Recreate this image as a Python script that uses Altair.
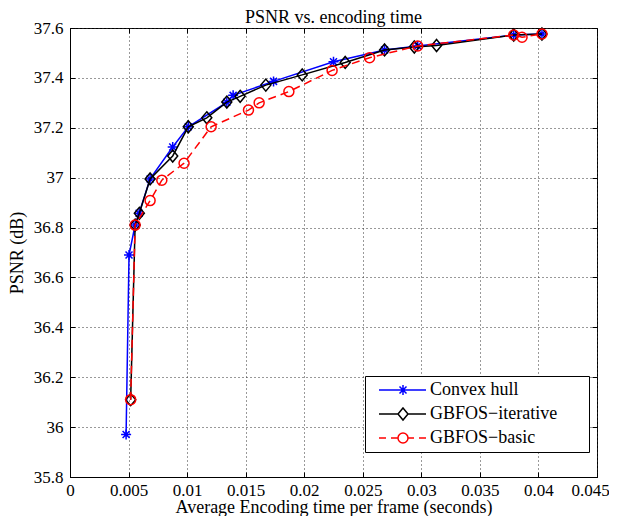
import altair as alt
import pandas as pd

# ---- data ----
hull_x = [0.00479, 0.00504, 0.00556, 0.00590, 0.00684, 0.00877, 0.01010, 0.01339, 0.01393, 0.01738, 0.02250, 0.02686, 0.02969, 0.03789, 0.04030]
hull_y = [35.97, 36.69, 36.81, 36.857, 36.995, 37.123, 37.204, 37.302, 37.330, 37.386, 37.465, 37.512, 37.528, 37.572, 37.576]

iter_x = [0.00518, 0.00556, 0.00592, 0.00684, 0.00877, 0.01010, 0.01168, 0.01339, 0.01453, 0.01672, 0.01983, 0.02350, 0.02686, 0.02940, 0.03130, 0.03789, 0.04030]
iter_y = [36.11, 36.81, 36.857, 36.995, 37.087, 37.204, 37.240, 37.303, 37.326, 37.371, 37.412, 37.462, 37.512, 37.524, 37.530, 37.572, 37.576]

basic_x = [0.00518, 0.00556, 0.00684, 0.00784, 0.00974, 0.01205, 0.01524, 0.01615, 0.01869, 0.02238, 0.02558, 0.02969, 0.03789, 0.03860, 0.04030]
basic_y = [36.11, 36.81, 36.908, 36.990, 37.058, 37.204, 37.271, 37.300, 37.345, 37.430, 37.481, 37.528, 37.572, 37.563, 37.576]

series_names = ["Convex hull", "GBFOS\u2212iterative", "GBFOS\u2212basic"]
series_colors = ["#0000ff", "#000000", "#ff0000"]

x_ticks = [0, 0.005, 0.01, 0.015, 0.02, 0.025, 0.03, 0.035, 0.04, 0.045]
y_ticks = [35.8, 36.0, 36.2, 36.4, 36.6, 36.8, 37.0, 37.2, 37.4, 37.6]

FONT = "Liberation Serif"
FS_TICK = 17
FS = 18

STAR = "M-1,0H1M0,-1V1M-0.7,-0.7L0.7,0.7M-0.7,0.7L0.7,-0.7"
DIAMOND = "M0,-1.2L1,0L0,1.2L-1,0Z"

LEG_STAR = "M0,0H9.4M4.8,-1V1M4.1,-0.7L5.5,0.7M4.1,0.7L5.5,-0.7"
LEG_DIAMOND = "M0,0H3.8M5.8,0H9.4M4.8,-1.2L5.8,0L4.8,1.2L3.8,0Z"
LEG_CIRCLE = "M0,0H1.4M2.4,0H3.8M5.8,0H7M8,0H9.4M3.8,0A1,1 0 1,0 5.8,0A1,1 0 1,0 3.8,0"


def frame(xs, ys, name):
    return pd.DataFrame({"x": xs, "y": ys, "series": name})


hull = frame(hull_x, hull_y, series_names[0])
iterative = frame(iter_x, iter_y, series_names[1])
basic = frame(basic_x, basic_y, series_names[2])
all_df = pd.concat([hull, iterative, basic], ignore_index=True)

xscale = alt.Scale(domain=[0, 0.045], nice=False, zero=False)
yscale = alt.Scale(domain=[35.8, 37.6], nice=False, zero=False)
inward = alt.ExprRef(expr="-5")

x_axis = alt.Axis(
    values=x_ticks, format=".3~f", grid=True, gridDash=[1, 3], gridColor="#333",
    gridWidth=1, tickSize=inward, tickColor="black", labelPadding=10,
    labelFont=FONT, labelFontSize=FS_TICK, labelColor="black",
    labelOffset={"condition": {"test": "datum.value > 0.0449", "value": -7}, "value": 0},
    title="Average Encoding time per frame (seconds)", titleFont=FONT,
    titleFontSize=FS, titleFontWeight="normal", titleColor="black",
    titlePadding=0, domainColor="black", labelFlush=False,
)
y_axis = alt.Axis(
    values=y_ticks, format=".1~f", grid=True, gridDash=[1, 3], gridColor="#333",
    gridWidth=1, tickSize=inward, tickColor="black", labelPadding=12,
    labelFont=FONT, labelFontSize=FS_TICK, labelColor="black",
    title="PSNR (dB)", titleFont=FONT, titleFontSize=FS,
    titleFontWeight="normal", titleColor="black", titlePadding=7,
    domainColor="black", labelFlush=False,
)
top_axis = alt.Axis(orient="top", values=x_ticks, labels=False, grid=False,
                    title=None, tickSize=inward, tickColor="black", domain=False,
                    minExtent=0, maxExtent=0)
right_axis = alt.Axis(orient="right", values=y_ticks, labels=False, grid=False,
                      title=None, tickSize=inward, tickColor="black", domain=False,
                      minExtent=0, maxExtent=0)


def series_layers(df, color, shape, dash, first=False):
    enc_x = alt.X("x:Q", scale=xscale, axis=x_axis if first else None)
    enc_y = alt.Y("y:Q", scale=yscale, axis=y_axis if first else None)
    line_kwargs = dict(color=color, strokeWidth=1.5)
    if dash:
        line_kwargs["strokeDash"] = dash
    line = alt.Chart(df).mark_line(**line_kwargs).encode(x=enc_x, y=enc_y)
    pts = alt.Chart(df).mark_point(
        filled=False, shape=shape, size=100, strokeWidth=1.5, color=color, opacity=1
    ).encode(x=alt.X("x:Q", scale=xscale, axis=None), y=alt.Y("y:Q", scale=yscale, axis=None))
    return [line, pts]


legend_def = alt.Legend(
    orient="none", legendX=295, legendY=348, title=None, fillColor="white",
    strokeColor="black", padding=5, symbolSize=100, symbolStrokeWidth=1.5,
    symbolOpacity=1, labelFont=FONT, labelFontSize=FS, labelColor="black",
    labelOffset=42, rowPadding=6, labelLimit=400,
    labelExpr="datum.label + '\u2800\u2800'",
)

legend_layer = alt.Chart(all_df).mark_point(filled=False, strokeWidth=1.5).encode(
    x=alt.X("x:Q", scale=xscale, axis=top_axis),
    y=alt.Y("y:Q", scale=yscale, axis=right_axis),
    color=alt.Color("series:N", scale=alt.Scale(domain=series_names, range=series_colors),
                    legend=legend_def),
    shape=alt.Shape("series:N", scale=alt.Scale(domain=series_names,
                                                range=[LEG_STAR, LEG_DIAMOND, LEG_CIRCLE]),
                    legend=legend_def),
    opacity=alt.value(0),
)

layers = []
layers += series_layers(hull, "#0000ff", STAR, None, first=True)
layers += series_layers(iterative, "#000000", DIAMOND, None)
layers += series_layers(basic, "#ff0000", "circle", [8, 5])
layers.append(legend_layer)

chart = alt.layer(*layers).resolve_axis(x="independent", y="independent").properties(
    width=527, height=449,
    title=alt.TitleParams("PSNR vs. encoding time", font=FONT, fontSize=FS,
                          fontWeight="normal", color="black", frame="group",
                          anchor="middle", baseline="alphabetic", offset=0, dy=22),
    autosize=alt.AutoSizeParams(type="none"),
    padding={"left": 62, "top": 20, "right": 12, "bottom": 39},
    background="white",
).configure_view(stroke="black", strokeWidth=1)

chart.save("out.html", embed_options={"renderer": "svg", "actions": False})
